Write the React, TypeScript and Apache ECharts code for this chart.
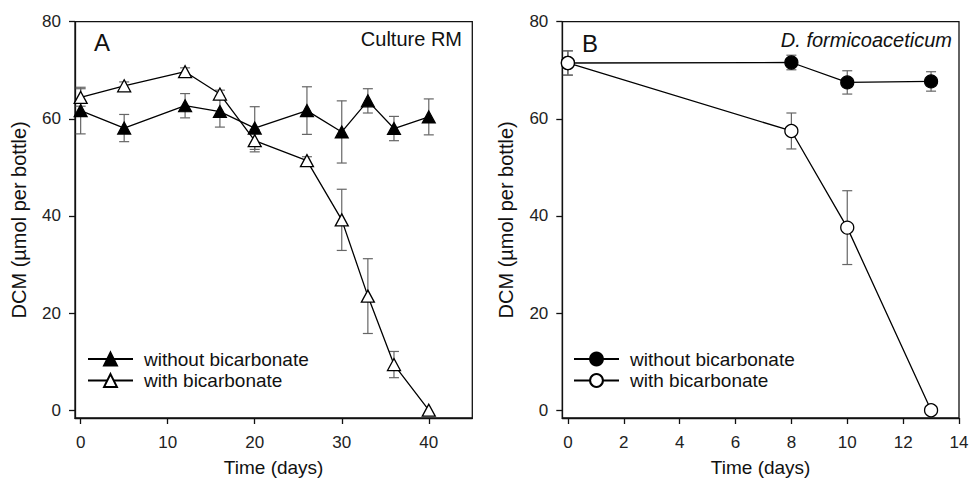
import React, { useEffect, useRef } from "react";
import * as echarts from "echarts";

// Panel A: Culture RM
const daysA = [0, 5, 12, 16, 20, 26, 30, 33, 36, 40];
const withoutA = [61.7, 58.1, 62.7, 61.5, 58.1, 61.7, 57.3, 63.7, 58.0, 60.4];
const withoutAErr = [4.8, 2.8, 2.5, 3.2, 4.4, 4.9, 6.4, 2.5, 2.5, 3.7];
const withA = [64.4, 66.8, 69.7, 65.1, 55.5, 51.4, 39.2, 23.5, 9.4, 0];
const withAErr = [1.8, 0.8, 0.8, 0.8, 2.3, 0.8, 6.3, 7.7, 2.7, 0];

// Panel B: D. formicoaceticum
const daysB = [0, 8, 10, 13];
const withoutB = [71.5, 71.6, 67.5, 67.7];
const withoutBErr = [2.5, 1.5, 2.4, 2.0];
const withB = [71.5, 57.5, 37.6, 0];
const withBErr = [2.5, 3.7, 7.6, 0];

const ticksXA = [0, 10, 20, 30, 40];
const ticksXB = [0, 2, 4, 6, 8, 10, 12, 14];
const ticksY = [0, 20, 40, 60, 80];

const labelNames: Record<string, string> = {
  "A-without": "without bicarbonate",
  "A-with": "with bicarbonate",
  "B-without": "without bicarbonate",
  "B-with": "with bicarbonate",
};

const FONT = "'Liberation Sans', Arial, Helvetica, sans-serif";
const INK = "#111";
const ERR = "#666";

function pts(x: number[], y: number[]) {
  return x.map((v, i) => [v, y[i]]);
}
function errPts(x: number[], y: number[], e: number[]) {
  return x.map((v, i) => [v, y[i], e[i]]);
}

function errorRender(params: any, api: any) {
  const x = api.value(0);
  const y = api.value(1);
  const e = api.value(2);
  if (!e) return null;
  const top = api.coord([x, y + e]);
  const bot = api.coord([x, y - e]);
  const h = 5;
  const st = { stroke: ERR, lineWidth: 1.2 };
  return {
    type: "group",
    children: [
      { type: "line", shape: { x1: top[0], y1: top[1], x2: bot[0], y2: bot[1] }, style: st },
      { type: "line", shape: { x1: top[0] - h, y1: top[1], x2: top[0] + h, y2: top[1] }, style: st },
      { type: "line", shape: { x1: bot[0] - h, y1: bot[1], x2: bot[0] + h, y2: bot[1] }, style: st },
    ],
  };
}

function xAxis(gridIndex: number, min: number, max: number, ticks: number[]) {
  return {
    type: "value",
    gridIndex,
    min,
    max,
    name: "Time (days)",
    nameLocation: "middle",
    nameGap: 40,
    nameTextStyle: { fontSize: 19, fontFamily: FONT, color: INK },
    axisLine: { show: true, onZero: false, lineStyle: { color: INK, width: 1.3 } },
    axisTick: { show: true, inside: false, length: 6, customValues: ticks, lineStyle: { color: INK, width: 1.3 } },
    axisLabel: { show: true, customValues: ticks, fontSize: 17, fontFamily: FONT, color: "#222", margin: 16 },
    splitLine: { show: false },
  };
}

function yAxis(gridIndex: number) {
  return {
    type: "value",
    gridIndex,
    min: -1.6,
    max: 80,
    name: "DCM (µmol per bottle)",
    nameLocation: "middle",
    nameGap: 46,
    nameTextStyle: { fontSize: 20, fontFamily: FONT, color: INK },
    axisLine: { show: true, onZero: false, lineStyle: { color: INK, width: 1.3 } },
    axisTick: { show: true, inside: false, length: 6, customValues: ticksY, lineStyle: { color: INK, width: 1.3 } },
    axisLabel: { show: true, customValues: ticksY, fontSize: 17, fontFamily: FONT, color: "#222", margin: 14 },
    splitLine: { show: false },
  };
}

function lineSeries(name: string, idx: number, data: number[][], symbol: string, size: any, filled: boolean) {
  return {
    type: "line",
    name,
    xAxisIndex: idx,
    yAxisIndex: idx,
    data,
    symbol,
    symbolSize: size,
    showAllSymbol: true,
    z: 3,
    lineStyle: { color: "#000", width: 1.3 },
    itemStyle: filled
      ? { color: "#000", borderColor: "#000", borderWidth: 1.2 }
      : { color: "#fff", borderColor: "#000", borderWidth: 1.3 },
    emphasis: { disabled: true },
  };
}

function errSeries(idx: number, data: number[][]) {
  return {
    type: "custom",
    xAxisIndex: idx,
    yAxisIndex: idx,
    data,
    z: 1,
    renderItem: errorRender,
    silent: true,
  };
}

function legend(left: number, names: string[]) {
  return {
    data: names,
    orient: "vertical",
    left,
    top: 349.5,
    padding: 0,
    itemWidth: 45,
    itemHeight: 16,
    itemGap: 2.5,
    selectedMode: false,
    formatter: (n: string) => labelNames[n],
    textStyle: { fontSize: 19, fontFamily: FONT, color: INK, padding: [0, 0, 0, 6] },
  };
}

export default function App() {
  const ref = useRef<HTMLDivElement>(null);
  useEffect(() => {
    if (!ref.current) return;
    const chart = echarts.init(ref.current, undefined, { renderer: "svg" });
    const triSize = [13, 12];
    const gridBase = { show: true, borderColor: INK, borderWidth: 1.3, backgroundColor: "transparent", containLabel: false, outerBoundsMode: "none" };
    chart.setOption({
      animation: false,
      backgroundColor: "#fff",
      grid: [
        { ...gridBase, left: 75, top: 21.7, right: 496.7, bottom: 60 },
        { ...gridBase, left: 562.3, top: 21.7, right: 10, bottom: 60 },
      ],
      xAxis: [xAxis(0, -0.65, 45, ticksXA), xAxis(1, -0.2, 14, ticksXB)],
      yAxis: [yAxis(0), yAxis(1)],
      legend: [legend(87, ["A-without", "A-with"]), legend(573, ["B-without", "B-with"])],
      series: [
        errSeries(0, errPts(daysA, withoutA, withoutAErr)),
        errSeries(0, errPts(daysA, withA, withAErr)),
        lineSeries("A-without", 0, pts(daysA, withoutA), "triangle", triSize, true),
        lineSeries("A-with", 0, pts(daysA, withA), "triangle", triSize, false),
        errSeries(1, errPts(daysB, withoutB, withoutBErr)),
        errSeries(1, errPts(daysB, withB, withBErr)),
        lineSeries("B-without", 1, pts(daysB, withoutB), "circle", 13, true),
        lineSeries("B-with", 1, pts(daysB, withB), "circle", 13, false),
      ],
      graphic: [
        { type: "text", x: 94, y: 42, style: { text: "A", fontSize: 24, fontFamily: FONT, fill: INK, align: "left", verticalAlign: "middle" } },
        { type: "text", x: 462, y: 39, style: { text: "Culture RM", fontSize: 20, fontFamily: FONT, fill: INK, align: "right", verticalAlign: "middle" } },
        { type: "text", x: 582, y: 43, style: { text: "B", fontSize: 24, fontFamily: FONT, fill: INK, align: "left", verticalAlign: "middle" } },
        { type: "text", x: 952, y: 40, style: { text: "D. formicoaceticum", fontSize: 20, fontStyle: "italic", fontFamily: FONT, fill: INK, align: "right", verticalAlign: "middle" } },
      ],
    });
    return () => chart.dispose();
  }, []);
  return <div ref={ref} style={{ position: "absolute", left: 0, top: 0, width: 969, height: 478, background: "#fff" }} />;
}
